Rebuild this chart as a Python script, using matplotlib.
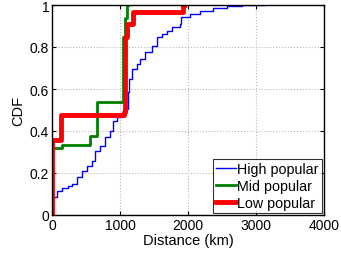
import numpy as np
import matplotlib.pyplot as plt

plt.rcParams['font.family'] = ['Liberation Sans', 'DejaVu Sans']

# High popular (step CDF)
high_x = [0, 78, 143, 240, 290, 363, 437, 510, 583, 632, 706, 780, 853, 902, 951,
          1025, 1088, 1113, 1137, 1172, 1245, 1294, 1368, 1466, 1540, 1613, 1687,
          1760, 1882, 1897, 2030, 2176, 2368, 2569, 2790, 3130]
high_y = [0.086, 0.116, 0.127, 0.137, 0.148, 0.18, 0.211, 0.235, 0.259, 0.306, 0.33,
          0.37, 0.40, 0.449, 0.465, 0.48, 0.505, 0.584, 0.648, 0.695, 0.719, 0.743,
          0.775, 0.806, 0.846, 0.862, 0.878, 0.894, 0.91, 0.941, 0.957, 0.973, 0.984,
          0.994, 1.0, 1.0]

# Mid popular
mid_x = [0, 140, 560, 665, 1040, 1075, 1100, 1115]
mid_y = [0.32, 0.335, 0.376, 0.538, 0.85, 0.94, 1.0, 1.0]

# Low popular
low_x = [0, 0, 130, 1060, 1075, 1100, 1190, 1930, 1940]
low_y = [0.0, 0.355, 0.475, 0.49, 0.85, 0.91, 0.967, 1.0, 1.0]

fig = plt.figure(figsize=(3.41, 2.55), dpi=100)
ax = fig.add_axes([52/341, 39/255, 272/341, 210/255])

ax.step(high_x, high_y, where='post', color='b', lw=1, label='High popular')
ax.step(mid_x, mid_y, where='post', color='#008000', lw=2, label='Mid popular')
ax.step(low_x, low_y, where='post', color='r', lw=3.5, label='Low popular')

ax.set_xlim(0, 4000)
ax.set_ylim(0, 1)
ax.set_xticks([0, 1000, 2000, 3000, 4000])
ax.set_yticks([0, 0.2, 0.4, 0.6, 0.8, 1])
ax.set_yticklabels(['0', '0.2', '0.4', '0.6', '0.8', '1'])
ax.grid(True, linestyle=':', color='#b8b8b8', lw=0.8)
ax.tick_params(direction='in', top=True, right=True, labelsize=10, length=3, pad=2)
ax.set_xlabel('Distance (km)', fontsize=10.5, labelpad=1)
ax.set_ylabel('CDF', fontsize=10.5, labelpad=3)
for s in ax.spines.values():
    s.set_linewidth(1)

leg = ax.legend(loc='lower right', fontsize=10.3, frameon=True, fancybox=False,
                edgecolor='k', borderpad=0.2, labelspacing=0.2, handlelength=1.4,
                handletextpad=0.1, borderaxespad=0.15)
leg.get_frame().set_linewidth(0.8)

fig.savefig('out.png', dpi=100)
